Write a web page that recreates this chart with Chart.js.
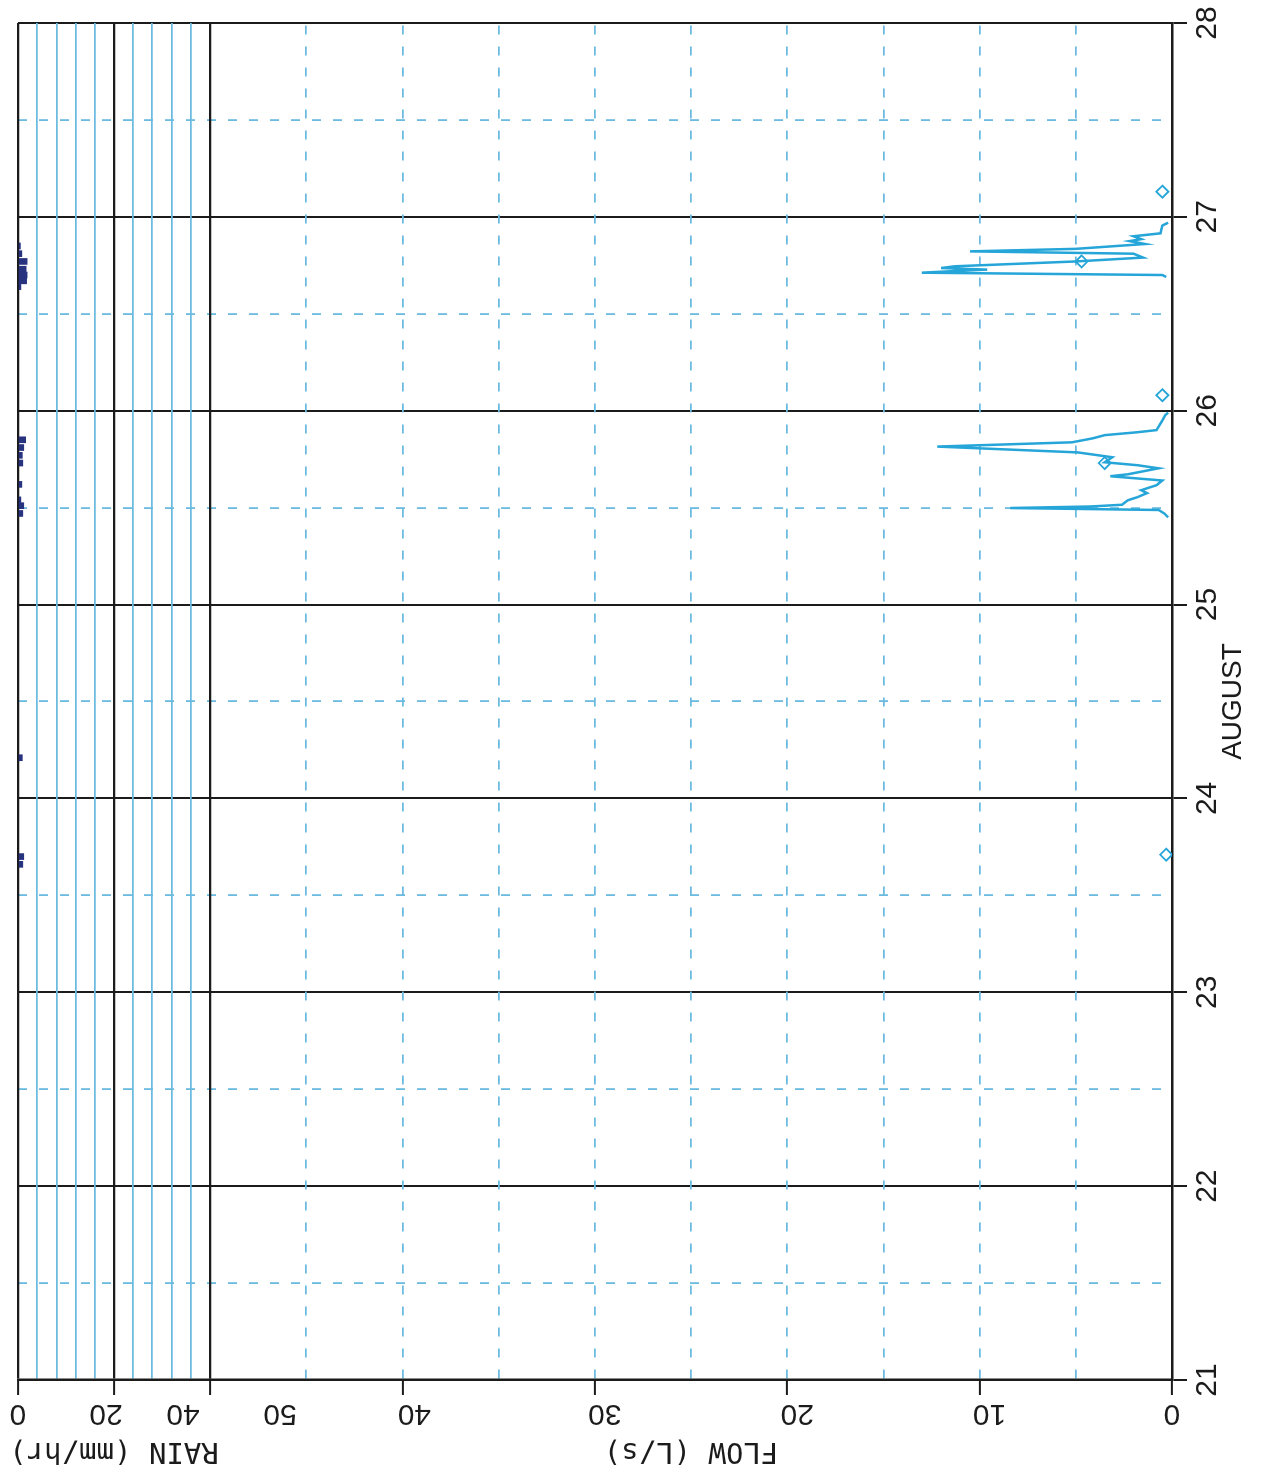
<!DOCTYPE html>
<html>
<head>
<meta charset="utf-8">
<title>Flow and rain, August 21-28</title>
<script src="https://cdn.jsdelivr.net/npm/chart.js@4.4.1/dist/chart.umd.min.js"></script>
<style>
    html, body { margin: 0; padding: 0; background: #ffffff; overflow: hidden; }
    #wrap { position: relative; width: 1262px; height: 1476px; background: #ffffff; }
    /* the chart is drawn landscape and turned a quarter turn, like the scanned sheet */
    #flowChart { position: absolute; left: 0; top: 0; transform-origin: 0 0; transform: translateY(1476px) rotate(-90deg); }
</style>
</head>
<body>
<div id="wrap"><canvas id="flowChart" width="1476" height="1262"></canvas></div>
<script>
// time axis: days of August
const dayTicks = [21, 22, 23, 24, 25, 26, 27, 28];
// flow axis (L/s) and rain axis (mm/hr)
const flowTicks = [0, 5, 10, 15, 20, 25, 30, 35, 40, 45, 50];
const flowLabels = [0, 10, 20, 30, 40, 50];
const rainTicks = [0, 4, 8, 12, 16, 20, 24, 28, 32, 36, 40];
const rainLabels = [0, 20, 40];

// flow trace (day of August, L/s), null = no trace
const flowDay = [25.45, 25.47, 25.488, 25.498, 25.506, 25.515, 25.538, 25.554, 25.575, 25.59,
    25.616, 25.64, 25.662, 25.672, 25.703, 25.719, 25.734, 25.76, 25.785, 25.815,
    25.837, 25.858, 25.874, 25.889, 25.9, 25.95, 25.977, 25.99,
    26.3,
    26.69, 26.7, 26.712, 26.722, 26.728, 26.736, 26.745, 26.77, 26.79, 26.81,
    26.822, 26.835, 26.86, 26.875, 26.885, 26.9, 26.915, 26.955, 26.97];
const flowLps = [0.2, 0.4, 0.7, 8.4, 4.2, 2.6, 2.3, 1.8, 1.3, 1.6,
    0.8, 0.5, 3.2, 2.3, 0.7, 1.8, 3.5, 3.1, 4.9, 12.2,
    5.2, 4.1, 3.5, 1.8, 0.8, 0.5, 0.35, 0.2,
    null,
    0.3, 0.5, 13.0, 11.0, 9.6, 12.0, 11.3, 5.0, 1.5, 2.0,
    10.5, 5.0, 1.4, 2.2, 1.6, 2.0, 0.6, 0.5, 0.2];

// small diamond marks on the trace
const markDay = [23.71, 25.73, 26.08, 26.77, 27.13];
const markLps = [0.3, 3.5, 0.5, 4.7, 0.5];

// rain gauge (day of August, mm/hr)
const rainDay = [23.66, 23.7, 24.21, 25.47, 25.51, 25.54, 25.62, 25.73, 25.77, 25.81, 25.85,
    26.64, 26.67, 26.7, 26.73, 26.77, 26.81, 26.85];
const rainMmHr = [1.0, 1.2, 0.9, 1.0, 1.2, 0.6, 0.8, 1.0, 0.9, 1.2, 1.6,
    0.6, 1.8, 1.9, 1.7, 1.9, 0.8, 0.5];

const black = '#1b1b1b';
const gridBlue = '#6bbbe0';
const traceBlue = '#25a5d8';
const clear = 'rgba(0,0,0,0)';

// tick numbers on the flow/rain axes are printed turned over on the sheet,
// so they are drawn here rotated; a few sit a little off their tick
const labelShift = {
    flow: {10: 10, 20: 10, 30: 10, 40: 12, 50: 70},
    rain: {20: -8, 40: -27}
};
const rotatedTickLabels = {
    id: 'rotatedTickLabels',
    afterDraw: (chart) => {
        const ctx = chart.ctx;
        const sets = [['flow', flowLabels], ['rain', rainLabels]];
        ctx.save();
        ctx.fillStyle = black;
        ctx.font = '30px "Liberation Sans", Arial, sans-serif';
        ctx.textAlign = 'center';
        ctx.textBaseline = 'middle';
        sets.forEach(function (s) {
            const scale = chart.scales[s[0]];
            s[1].forEach(function (v) {
                const y = scale.getPixelForValue(v) + (labelShift[s[0]][v] || 0);
                ctx.save();
                ctx.translate(63, y);
                ctx.rotate(-Math.PI / 2);
                ctx.fillText(String(v), 0, 0);
                ctx.restore();
            });
        });
        ctx.restore();
    }
};

const tickVal = (c) => (c.tick ? c.tick.value : 0);

var ctx = document.getElementById('flowChart').getContext('2d');
var flowChart = new Chart(ctx, {
    type: 'line',
    data: {
        datasets: [{
            type: 'line',
            label: 'Flow',
            data: flowDay.map((d, i) => ({x: d, y: flowLps[i]})),
            xAxisID: 'x',
            yAxisID: 'flow',
            borderColor: traceBlue,
            borderWidth: 2.5,
            pointRadius: 0,
            spanGaps: false,
            tension: 0
        }, {
            type: 'scatter',
            label: 'Marks',
            data: markDay.map((d, i) => ({x: d, y: markLps[i]})),
            xAxisID: 'x',
            yAxisID: 'flow',
            pointStyle: 'rectRot',
            pointRadius: 6,
            borderColor: traceBlue,
            backgroundColor: clear,
            borderWidth: 1.8
        }, {
            type: 'bar',
            label: 'Rain',
            data: rainDay.map((d, i) => ({x: d, y: rainMmHr[i]})),
            xAxisID: 'x',
            yAxisID: 'rain',
            backgroundColor: '#283380',
            barThickness: 6
        }]
    },
    options: {
        responsive: false,
        animation: false,
        layout: { padding: { top: 18, right: 23, left: 0, bottom: 0 } },
        plugins: {
            legend: { display: false },
            tooltip: { enabled: false }
        },
        scales: {
            x: {
                type: 'linear',
                position: 'bottom',
                offset: false,
                min: 21,
                max: 28,
                afterBuildTicks: (s) => { s.ticks = dayTicks.map(v => ({value: v})); },
                afterFit: (s) => { s.height = 90; },
                grid: { offset: false, color: black, lineWidth: 2, tickLength: 15, tickColor: black, tickWidth: 2 },
                border: { color: black, width: 2.5 },
                ticks: { color: black, font: { family: '"Liberation Sans", Arial, sans-serif', size: 30 }, padding: 3, maxRotation: 0, autoSkip: false },
                title: { display: true, text: 'AUGUST', color: black, font: { family: '"Liberation Sans", Arial, sans-serif', size: 28 }, padding: { top: 0, bottom: 12 } }
            },
            x2: {
                type: 'linear',
                position: 'top',
                offset: false,
                min: 21,
                max: 28,
                afterBuildTicks: (s) => { s.ticks = dayTicks.slice(0, -1).map(v => ({value: v + 0.5})); },
                afterFit: (s) => { s.height = 0; },
                grid: { offset: false, color: gridBlue, lineWidth: 1.8, drawTicks: false },
                border: { display: false, dash: [9, 12] },
                ticks: { display: false }
            },
            rain: {
                type: 'linear',
                position: 'left',
                stack: 'vert',
                stackWeight: 192,
                weight: 2,
                reverse: true,
                min: 0,
                max: 40,
                afterBuildTicks: (s) => { s.ticks = rainTicks.map(v => ({value: v})); },
                afterFit: (s) => { s.width = 96; },
                grid: {
                    z: -1,
                    color: (c) => (tickVal(c) % 20 === 0 ? black : gridBlue),
                    lineWidth: (c) => (tickVal(c) % 20 === 0 ? 2.2 : 1.8),
                    tickLength: 15,
                    tickWidth: 2,
                    tickColor: (c) => (tickVal(c) % 20 === 0 ? black : clear)
                },
                border: { color: black, width: 2.5 },
                ticks: { display: false },
                title: { display: true, text: 'RAIN (mm/hr)', color: black, font: { family: '"DejaVu Sans Mono", monospace', size: 29 }, padding: { top: 8, bottom: 0 } }
            },
            flow: {
                type: 'linear',
                position: 'left',
                stack: 'vert',
                stackWeight: 962,
                weight: 1,
                min: 0,
                max: 50,
                afterBuildTicks: (s) => { s.ticks = flowTicks.map(v => ({value: v})); },
                afterFit: (s) => { s.width = 96; },
                grid: {
                    z: -1,
                    color: (c) => ((tickVal(c) === 0 || tickVal(c) === 50) ? clear : gridBlue),
                    lineWidth: 1.8,
                    tickLength: 15,
                    tickWidth: 2,
                    tickColor: (c) => ((tickVal(c) % 10 === 0 && tickVal(c) < 50) ? black : clear)
                },
                border: { color: black, width: 2.5, dash: [9, 12] },
                ticks: { display: false },
                title: { display: true, text: 'FLOW (L/s)', color: black, font: { family: '"DejaVu Sans Mono", monospace', size: 29 }, padding: { top: 8, bottom: 0 } }
            }
        }
    },
    plugins: [rotatedTickLabels]
});
</script>
</body>
</html>
